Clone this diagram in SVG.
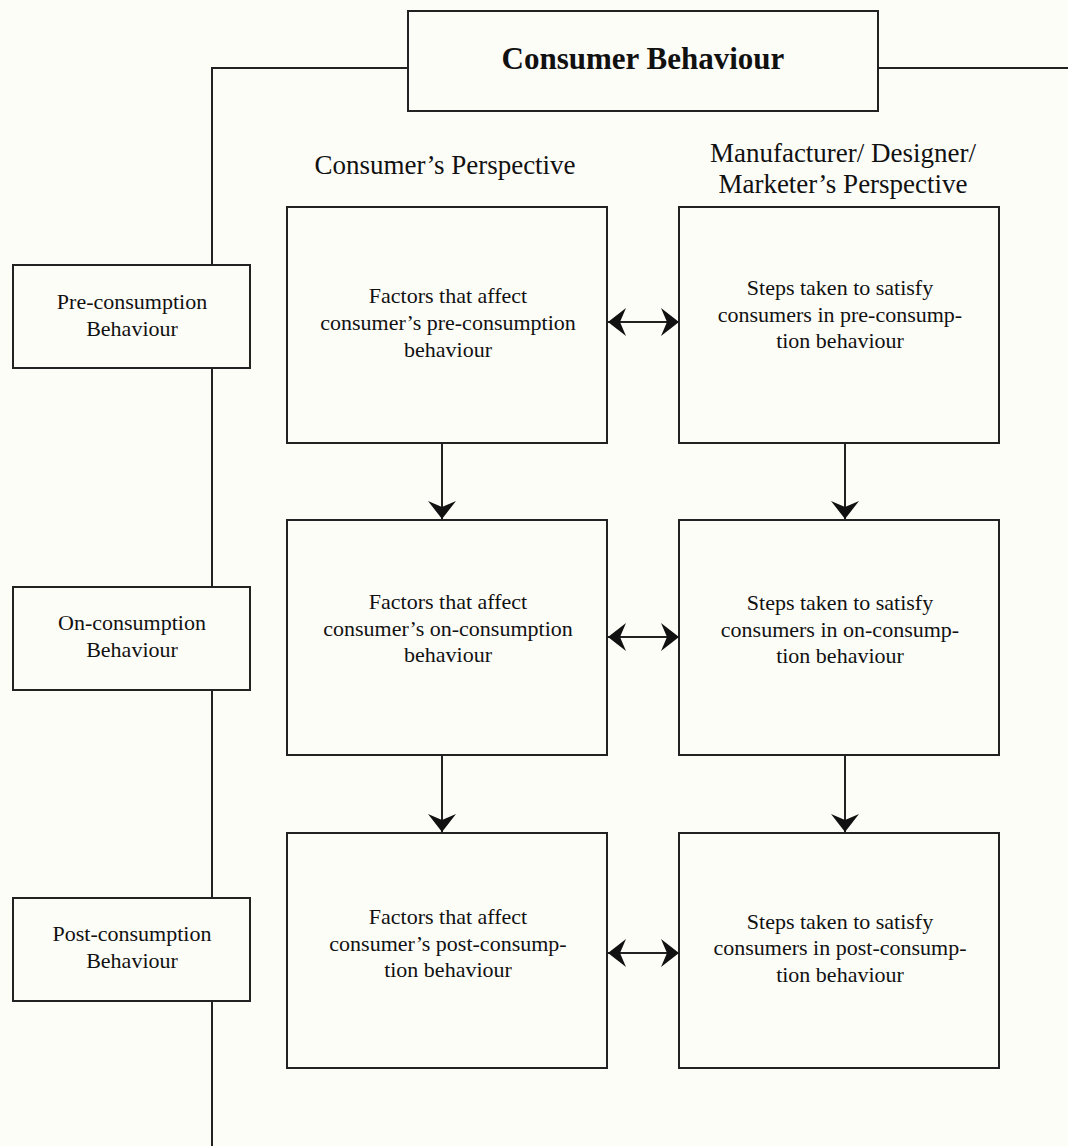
<svg xmlns="http://www.w3.org/2000/svg" width="1068" height="1146" viewBox="0 0 1068 1146">
<style>
.bg{fill:#fdfdf8}
.box{fill:#fdfdf8;stroke:#222;stroke-width:2}
.ln{fill:none;stroke:#222;stroke-width:2}
.t{font-family:"Liberation Serif","Times New Roman",serif;font-size:22px;fill:#111;text-anchor:middle}
.h{font-family:"Liberation Serif","Times New Roman",serif;font-size:27px;fill:#111;text-anchor:middle}
.title{font-family:"Liberation Serif","Times New Roman",serif;font-size:31px;font-weight:bold;fill:#111;text-anchor:middle}
</style>
<defs>
<marker id="ah" markerUnits="userSpaceOnUse" viewBox="0 0 20 28" refX="20" refY="14" markerWidth="20" markerHeight="28" orient="auto-start-reverse">
<path d="M20,14 L2,0 L8,14 L2,28 Z" fill="#111"/>
</marker>
</defs>
<rect class="bg" x="0" y="0" width="1068" height="1146"/>
<g id="connectors">
<path class="ln" d="M408,68 H212 V1146"/>
<path class="ln" d="M878,68 H1068"/>
<line class="ln" x1="608" y1="322" x2="679" y2="322" marker-start="url(#ah)" marker-end="url(#ah)"/>
<line class="ln" x1="608" y1="637" x2="679" y2="637" marker-start="url(#ah)" marker-end="url(#ah)"/>
<line class="ln" x1="608" y1="953" x2="679" y2="953" marker-start="url(#ah)" marker-end="url(#ah)"/>
<line class="ln" x1="442" y1="443" x2="442" y2="519" marker-end="url(#ah)"/>
<line class="ln" x1="845" y1="443" x2="845" y2="519" marker-end="url(#ah)"/>
<line class="ln" x1="442" y1="755" x2="442" y2="832" marker-end="url(#ah)"/>
<line class="ln" x1="845" y1="755" x2="845" y2="832" marker-end="url(#ah)"/>
</g>
<g id="title">
<rect class="box" x="408" y="11" width="470" height="100"/>
<text class="title" x="643" y="69">Consumer Behaviour</text>
</g>
<g id="header-consumer">
<text class="h" x="445" y="174">Consumer&#8217;s Perspective</text>
</g>
<g id="header-manufacturer">
<text class="h" x="843" y="162">Manufacturer/ Designer/</text>
<text class="h" x="843" y="193">Marketer&#8217;s Perspective</text>
</g>
<g id="pre">
<rect class="box" x="13" y="265" width="237" height="103"/>
<text class="t" x="132" y="309">Pre-consumption</text>
<text class="t" x="132" y="336">Behaviour</text>
</g>
<g id="on">
<rect class="box" x="13" y="587" width="237" height="103"/>
<text class="t" x="132" y="630">On-consumption</text>
<text class="t" x="132" y="657">Behaviour</text>
</g>
<g id="post">
<rect class="box" x="13" y="898" width="237" height="103"/>
<text class="t" x="132" y="941">Post-consumption</text>
<text class="t" x="132" y="968">Behaviour</text>
</g>
<g id="factors-pre">
<rect class="box" x="287" y="207" width="320" height="236"/>
<text class="t" x="448" y="303">Factors that affect</text>
<text class="t" x="448" y="330">consumer&#8217;s pre-consumption</text>
<text class="t" x="448" y="357">behaviour</text>
</g>
<g id="steps-pre">
<rect class="box" x="679" y="207" width="320" height="236"/>
<text class="t" x="840" y="295">Steps taken to satisfy</text>
<text class="t" x="840" y="322">consumers in pre-consump-</text>
<text class="t" x="840" y="348">tion behaviour</text>
</g>
<g id="factors-on">
<rect class="box" x="287" y="520" width="320" height="235"/>
<text class="t" x="448" y="609">Factors that affect</text>
<text class="t" x="448" y="636">consumer&#8217;s on-consumption</text>
<text class="t" x="448" y="662">behaviour</text>
</g>
<g id="steps-on">
<rect class="box" x="679" y="520" width="320" height="235"/>
<text class="t" x="840" y="610">Steps taken to satisfy</text>
<text class="t" x="840" y="637">consumers in on-consump-</text>
<text class="t" x="840" y="663">tion behaviour</text>
</g>
<g id="factors-post">
<rect class="box" x="287" y="833" width="320" height="235"/>
<text class="t" x="448" y="924">Factors that affect</text>
<text class="t" x="448" y="951">consumer&#8217;s post-consump-</text>
<text class="t" x="448" y="977">tion behaviour</text>
</g>
<g id="steps-post">
<rect class="box" x="679" y="833" width="320" height="235"/>
<text class="t" x="840" y="929">Steps taken to satisfy</text>
<text class="t" x="840" y="955">consumers in post-consump-</text>
<text class="t" x="840" y="982">tion behaviour</text>
</g>
</svg>
